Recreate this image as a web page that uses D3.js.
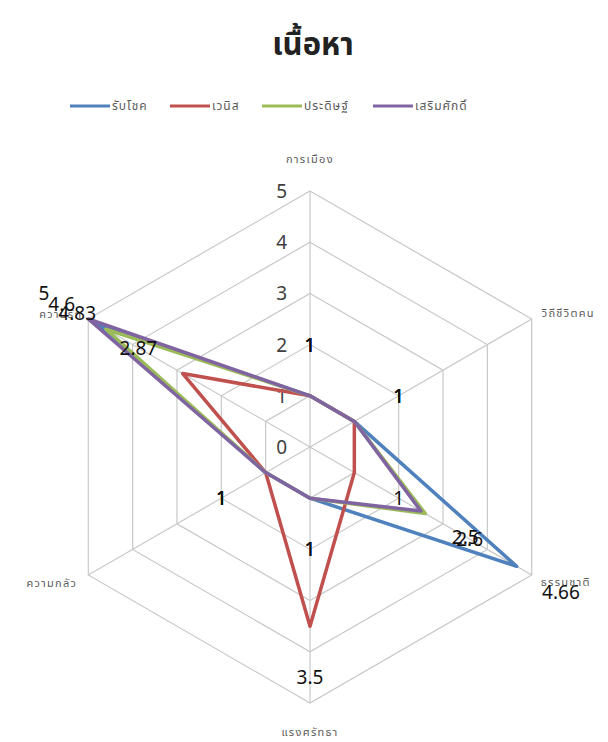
<!DOCTYPE html>
<html>
<head>
<meta charset="utf-8">
<script src="https://cdn.jsdelivr.net/npm/d3@7"></script>
<style>
  body { margin: 0; background: #fff; }
  svg text { font-family: Tahoma, "Noto Sans Thai", "Noto Sans", "DejaVu Sans", sans-serif; }
</style>
</head>
<body>
<div id="chart"></div>
<script>
// axes, clockwise from the top
var axes = ["การเมือง", "วิถีชีวิตคน", "ธรรมชาติ", "แรงศรัทธา", "ความกลัว", "ความรัก"];
var seriesNames = ["รับโชค", "เวนิส", "ประดิษฐ์", "เสริมศักดิ์"];
var rubchok   = [1, 1, 4.66, 1, 1, 4.83];
var wenit     = [1, 1, 1, 3.5, 1, 2.87];
var pradit    = [1, 1, 2.6, 1, 1, 4.6];
var sermsak   = [1, 1, 2.5, 1, 1, 5];
var ticks = [0, 1, 2, 3, 4, 5];
var colors = ["#4f81bd", "#c0504d", "#9bbb59", "#8064a2"];

var series = [rubchok, wenit, pradit, sermsak].map(function(v, i) {
  return {name: seriesNames[i], values: v, color: colors[i]};
});

var W = 608, H = 742,
    cx = 310, cy = 447;

var svg = d3.select("#chart").append("svg")
  .attr("width", W).attr("height", H);

var r = d3.scaleLinear().domain([0, 5]).range([0, 256]);
var angle = d3.scalePoint().domain(axes).range([0, 300]); // degrees, clockwise from top

function pt(axis, v) {
  var a = (angle(axis) - 90) * Math.PI / 180;
  return [cx + r(v) * Math.cos(a), cy + r(v) * Math.sin(a)];
}

// title
svg.append("text")
  .attr("x", 313).attr("y", 55)
  .attr("text-anchor", "middle")
  .style("font-size", "31px").style("font-weight", "bold").style("fill", "#222")
  .text("เนื้อหา");

// legend
var legendX = [70, 170, 262, 373];
var legend = svg.selectAll(".legend").data(series).enter().append("g")
  .attr("transform", function(d, i) { return "translate(" + legendX[i] + ",106)"; });
legend.append("line")
  .attr("x1", 0).attr("x2", 40)
  .style("stroke", d => d.color).style("stroke-width", 3);
legend.append("text")
  .attr("x", 42).attr("y", 4)
  .style("font-size", "12px").style("letter-spacing", "1px").style("fill", "#595959")
  .text(d => d.name);

// grid rings
var grid = svg.append("g").attr("class", "grid");
grid.selectAll("polygon").data(ticks.slice(1)).enter().append("polygon")
  .attr("points", t => axes.map(a => pt(a, t).join(",")).join(" "))
  .style("fill", "none").style("stroke", "#c8c8c8").style("stroke-width", 1.2);
grid.selectAll("line").data(axes).enter().append("line")
  .attr("x1", cx).attr("y1", cy)
  .attr("x2", a => pt(a, 5)[0]).attr("y2", a => pt(a, 5)[1])
  .style("stroke", "#c8c8c8").style("stroke-width", 1.2);

// tick labels on the top axis
svg.selectAll(".tick").data(ticks).enter().append("text")
  .attr("x", cx - 23)
  .attr("y", t => pt(axes[0], t)[1] + 7)
  .attr("text-anchor", "end")
  .style("font-size", "19px").style("fill", "#404040")
  .text(t => t);

// axis labels
var labelPos = [
  {dx: 0, dy: -28, anchor: "middle"},
  {dx: 10, dy: -2, anchor: "start"},
  {dx: 9, dy: 11, anchor: "start"},
  {dx: 0, dy: 33, anchor: "middle"},
  {dx: -11, dy: 12, anchor: "end"},
  {dx: -6, dy: -1, anchor: "end"}
];
svg.selectAll(".axislabel").data(axes).enter().append("text")
  .attr("x", (a, i) => pt(a, 5)[0] + labelPos[i].dx)
  .attr("y", (a, i) => pt(a, 5)[1] + labelPos[i].dy)
  .attr("text-anchor", (a, i) => labelPos[i].anchor)
  .style("font-size", "11px").style("letter-spacing", "1.3px").style("fill", "#595959")
  .text(a => a);

// series lines
var line = d3.line().curve(d3.curveLinearClosed);
svg.selectAll(".series").data(series).enter().append("path")
  .attr("d", d => line(axes.map((a, i) => pt(a, d.values[i]))))
  .style("fill", "none")
  .style("stroke", d => d.color)
  .style("stroke-width", 3.5)
  .style("stroke-linejoin", "round");

// data labels, pushed one ring outward from the point
var labelRadius = {"0-5": 5.25}; // one label sits closer in
series.forEach(function(s, si) {
  svg.selectAll(null).data(s.values).enter().append("text")
    .attr("x", (v, i) => pt(axes[i], labelRadius[si + "-" + i] || v + 1)[0])
    .attr("y", (v, i) => pt(axes[i], labelRadius[si + "-" + i] || v + 1)[1] + 7)
    .attr("text-anchor", "middle")
    .style("font-size", "19px").style("fill", "#111")
    .text(v => v);
});
</script>
</body>
</html>
